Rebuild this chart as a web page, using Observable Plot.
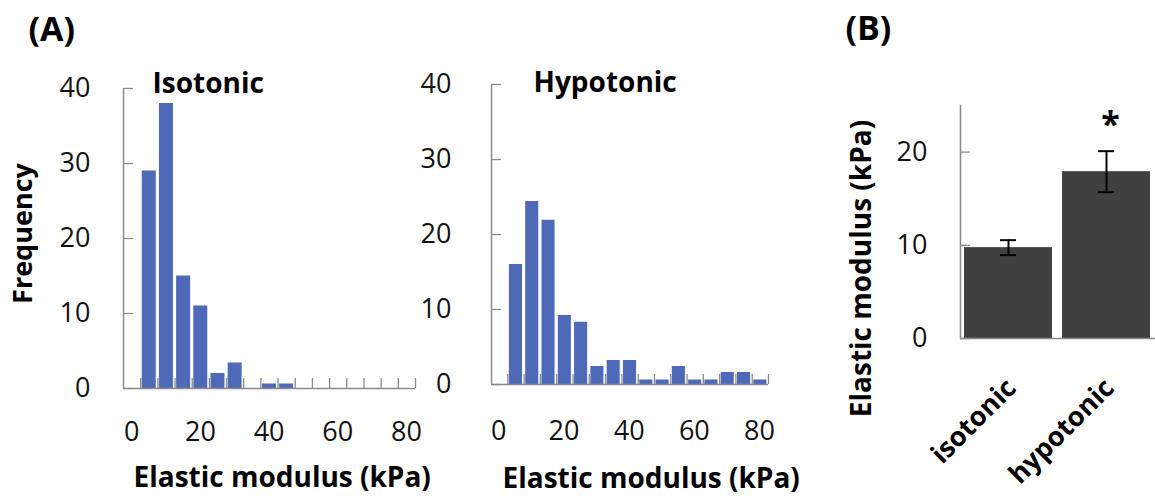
<!DOCTYPE html>
<html>
<head>
<meta charset="utf-8">
<script src="https://cdn.jsdelivr.net/npm/d3@7"></script>
<script src="https://cdn.jsdelivr.net/npm/@observablehq/plot@0.6"></script>
<style>
  html, body { margin: 0; padding: 0; background: #fff; }
  #chart { position: relative; width: 1155px; height: 504px; overflow: hidden; background: #fff; }
  #chart svg { position: absolute; left: 0; top: 0; }
</style>
</head>
<body>
<div id="chart"></div>
<script>
// ---- data ----
const binWidth = 5;
const binStarts = [0, 5, 10, 15, 20, 25, 30, 35, 40, 45, 50, 55, 60, 65, 70, 75];
const isotonicFreq = [29, 38, 15, 11, 2, 3.4, 0, 0.6, 0.6, 0, 0, 0, 0, 0, 0, 0];
const hypotonicFreq = [16, 24.4, 21.9, 9.2, 8.3, 2.4, 3.2, 3.2, 0.6, 0.6, 2.4, 0.6, 0.6, 1.6, 1.6, 0.6];
const xTickLabels = [0, 20, 40, 60, 80];
const freqTicks = [0, 10, 20, 30, 40];
const binBounds = [0, 5, 10, 15, 20, 25, 30, 35, 40, 45, 50, 55, 60, 65, 70, 75, 80];

const groups = ["isotonic", "hypotonic"];
const meanModulus = [9.75, 17.9];
const errModulus = [0.8, 2.2];
const modulusTicks = [0, 10, 20];

// ---- styles ----
const FONT = "'Open Sans', sans-serif";
const AXIS = "#8a8a8a";
const BLUE = "#4f69b9";
const DARK = "#404040";
const W = 1155, H = 504;

function histPanel(freqs, title, m, o) {
  const data = binStarts.map((s, i) => ({start: s, freq: freqs[i]}));
  return Plot.plot({
    width: W, height: H,
    marginLeft: m.left, marginRight: m.right, marginTop: m.top, marginBottom: m.bottom,
    style: {background: "transparent", fontFamily: FONT, fontSize: "27px", color: "#000"},
    x: {domain: [-5, 80]},
    y: {domain: [0, 40]},
    marks: [
      Plot.rectY(data, {x: "start", interval: binWidth, y: "freq", fill: BLUE, insetLeft: 1.6, insetRight: 1.6}),
      Plot.ruleY([0], {stroke: AXIS, strokeWidth: 1.5}),
      Plot.ruleX([-5], {stroke: AXIS, strokeWidth: 1.5}),
      Plot.axisX({ticks: binBounds, tickSize: 10, dy: -10, fill: "none", stroke: AXIS, strokeWidth: 1.3, label: null}),
      Plot.axisY({ticks: freqTicks, tickSize: 10, dx: 10, fill: "none", stroke: AXIS, strokeWidth: 1.3, label: null}),
      Plot.axisX({ticks: xTickLabels, tickSize: 0, tickPadding: o.xPad, dx: -9, fontSize: 27, fill: "#111", label: null}),
      Plot.axisY({ticks: freqTicks, tickSize: 0, tickPadding: o.yPad, fontSize: 27, fill: "#111", label: null}),
      Plot.text([title], {frameAnchor: "top-left", textAnchor: "start", lineAnchor: "middle", dx: o.titleDx, dy: o.titleDy,
        fontSize: 28, fontWeight: "bold", fill: "#000"}),
      Plot.text(["Elastic modulus (kPa)"], {frameAnchor: "bottom-left", textAnchor: "start", lineAnchor: "middle", dx: o.xlabDx, dy: o.xlabDy,
        fontSize: 28, fontWeight: "bold", fill: "#000"}),
      ...(o.extra || [])
    ]
  });
}

const iso = histPanel(isotonicFreq, "Isotonic",
  {left: 123, right: 740, top: 88, bottom: 116},
  {xPad: 33, yPad: 33, titleDx: 29, titleDy: -4, xlabDx: 10, xlabDy: 90,
   extra: [
     Plot.text(["(A)"], {frameAnchor: "top-left", textAnchor: "start", lineAnchor: "middle", dx: -95, dy: -58, fontSize: 34, fontWeight: "bold", fill: "#000"}),
     Plot.text(["Frequency"], {frameAnchor: "left", textAnchor: "middle", lineAnchor: "middle", rotate: -90, dx: -100, dy: -5, fontSize: 27, fontWeight: "bold", fill: "#000"})
   ]});

const hypo = histPanel(hypotonicFreq, "Hypotonic",
  {left: 491, right: 387, top: 84, bottom: 120},
  {xPad: 36, yPad: 40, titleDx: 42, titleDy: -1, xlabDx: 11, xlabDy: 95});

const bData = groups.map((g, i) => ({group: g, mean: meanModulus[i], err: errModulus[i]}));
const sigGroups = ["hypotonic"];

const panelB = Plot.plot({
  width: W, height: H,
  marginLeft: 960, marginRight: 0, marginTop: 105, marginBottom: 166,
  style: {background: "transparent", fontFamily: FONT, fontSize: "27px", color: "#000"},
  x: {domain: groups, paddingInner: 0.1, paddingOuter: 0.04},
  y: {domain: [0, 25]},
  marks: [
    Plot.barY(bData, {x: "group", y: "mean", fill: DARK}),
    Plot.ruleX(bData, {x: "group", y1: d => d.mean - d.err, y2: d => d.mean + d.err, stroke: "#000", strokeWidth: 2}),
    Plot.tickY(bData, {x: "group", y: d => d.mean + d.err, insetLeft: 36, insetRight: 36, stroke: "#000", strokeWidth: 2}),
    Plot.tickY(bData, {x: "group", y: d => d.mean - d.err, insetLeft: 36, insetRight: 36, stroke: "#000", strokeWidth: 2}),
    Plot.text(bData.filter(d => sigGroups.includes(d.group)), {x: "group", y: d => d.mean + d.err, text: () => "*",
      dy: -26, dx: 4, fontSize: 34, fontWeight: "bold", fill: "#000"}),
    Plot.ruleY([0], {stroke: AXIS, strokeWidth: 1.5}),
    Plot.frame({anchor: "left", stroke: AXIS, strokeWidth: 1.5}),
    Plot.axisY({ticks: modulusTicks, tickSize: 10, dx: 10, fill: "none", stroke: AXIS, strokeWidth: 1.3, label: null}),
    Plot.axisY({ticks: modulusTicks, tickSize: 0, tickPadding: 33, fontSize: 27, fill: "#111", label: null}),
    Plot.axisX({tickSize: 0, tickPadding: 45, tickRotate: -45, dx: 3, fontSize: 27, fontWeight: "bold", fill: "#000", label: null}),
    Plot.text(["(B)"], {frameAnchor: "top-left", textAnchor: "start", lineAnchor: "middle", dx: -115, dy: -76, fontSize: 34, fontWeight: "bold", fill: "#000"}),
    Plot.text(["Elastic modulus (kPa)"], {frameAnchor: "left", textAnchor: "middle", lineAnchor: "middle", rotate: -90, dx: -98, dy: 46.5, fontSize: 28, fontWeight: "bold", fill: "#000"})
  ]
});

const chart = document.getElementById("chart");
chart.append(iso, hypo, panelB);
</script>
</body>
</html>
